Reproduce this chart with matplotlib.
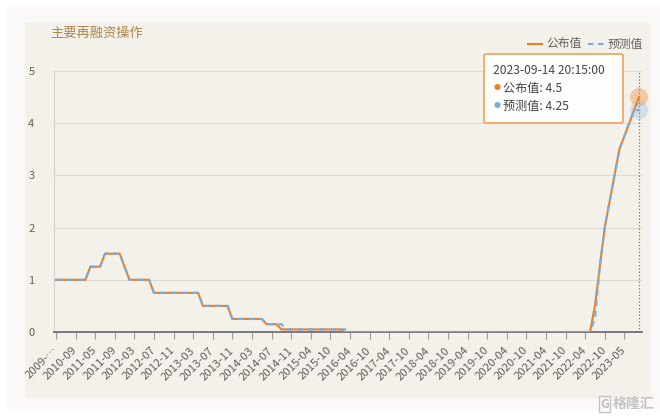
import numpy as np
import matplotlib
matplotlib.use("Agg")
import matplotlib.pyplot as plt
from matplotlib.lines import Line2D
from matplotlib.patches import Rectangle, FancyBboxPatch

plt.rcParams["font.family"] = ["Noto Sans CJK SC", "DejaVu Sans"]

# %%
#! data (one value per ECB meeting, category axis)

title = "主要再融资操作"
name_actual = "公布值"
name_forecast = "预测值"
tooltip_time = "2023-09-14 20:15:00"

tick_labels = [
    "2009-…", "2010-09", "2011-05", "2011-09", "2012-03", "2012-07",
    "2012-11", "2013-03", "2013-07", "2013-11", "2014-03", "2014-07",
    "2014-11", "2015-04", "2015-10", "2016-04", "2016-10", "2017-04",
    "2017-10", "2018-04", "2018-10", "2019-04", "2019-10", "2020-04",
    "2020-10", "2021-04", "2021-10", "2022-04", "2022-10", "2023-05",
]

actual = [
    1.0, 1.0, 1.0, 1.0, 1.0, 1.0, 1.0, 1.25, 1.25, 1.25,
    1.5, 1.5, 1.5, 1.5, 1.25, 1.0, 1.0, 1.0, 1.0, 1.0,
    0.75, 0.75, 0.75, 0.75, 0.75, 0.75, 0.75, 0.75, 0.75, 0.75,
    0.5, 0.5, 0.5, 0.5, 0.5, 0.5, 0.25, 0.25, 0.25, 0.25,
    0.25, 0.25, 0.25, 0.15, 0.15, 0.15, 0.05, 0.05, 0.05, 0.05,
    0.05, 0.05, 0.05, 0.05, 0.05, 0.05, 0.05, 0.05, 0.05, 0.0,
    0.0, 0.0, 0.0, 0.0, 0.0, 0.0, 0.0, 0.0, 0.0, 0.0,
    0.0, 0.0, 0.0, 0.0, 0.0, 0.0, 0.0, 0.0, 0.0, 0.0,
    0.0, 0.0, 0.0, 0.0, 0.0, 0.0, 0.0, 0.0, 0.0, 0.0,
    0.0, 0.0, 0.0, 0.0, 0.0, 0.0, 0.0, 0.0, 0.0, 0.0,
    0.0, 0.0, 0.0, 0.0, 0.0, 0.0, 0.0, 0.0, 0.0, 0.0,
    0.5, 1.25, 2.0, 2.5, 3.0, 3.5, 3.75, 4.0, 4.25, 4.5,
]

forecast = [
    1.0, 1.0, 1.0, 1.0, 1.0, 1.0, 1.0, 1.25, 1.25, 1.25,
    1.5, 1.5, 1.5, 1.5, 1.25, 1.0, 1.0, 1.0, 1.0, 1.0,
    0.75, 0.75, 0.75, 0.75, 0.75, 0.75, 0.75, 0.75, 0.75, 0.75,
    0.5, 0.5, 0.5, 0.5, 0.5, 0.5, 0.25, 0.25, 0.25, 0.25,
    0.25, 0.25, 0.25, 0.15, 0.15, 0.15, 0.15, 0.05, 0.05, 0.05,
    0.05, 0.05, 0.05, 0.05, 0.05, 0.05, 0.05, 0.05, 0.05, 0.05,
    0.0, 0.0, 0.0, 0.0, 0.0, 0.0, 0.0, 0.0, 0.0, 0.0,
    0.0, 0.0, 0.0, 0.0, 0.0, 0.0, 0.0, 0.0, 0.0, 0.0,
    0.0, 0.0, 0.0, 0.0, 0.0, 0.0, 0.0, 0.0, 0.0, 0.0,
    0.0, 0.0, 0.0, 0.0, 0.0, 0.0, 0.0, 0.0, 0.0, 0.0,
    0.0, 0.0, 0.0, 0.0, 0.0, 0.0, 0.0, 0.0, 0.0, 0.0,
    0.25, 1.25, 2.0, 2.5, 3.0, 3.5, 3.75, 4.0, 4.25, 4.25,
]

c_act = "#ef7f22"
c_fc = "#73aee3"
c_txt = "#606060"

# %%
#! figure in pixel units

W, H = 660, 417


def fx(px):
    return px / W


def fy(py):
    return 1 - py / H


fig = plt.figure(figsize=(W / 100, H / 100), dpi=100, facecolor="white")

# background panels
fig.add_artist(Rectangle((fx(7), fy(408)), fx(660) - fx(7), fy(7) - fy(408),
                         transform=fig.transFigure, color="#fbf9f7", zorder=-3))
fig.add_artist(Rectangle((fx(26), fy(397)), fx(650) - fx(26), fy(23) - fy(397),
                         transform=fig.transFigure, color="#f4f0ea", zorder=-2))

ax = fig.add_axes([fx(54), fy(332), (642 - 54) / W, (332 - 71) / H])
ax.set_facecolor("none")

x = np.arange(len(actual))
step = (639 - 56) / (len(actual) - 1)
ax.set_xlim(-2 / step, len(actual) - 1 + 3 / step)
ax.set_ylim(0, 5)

ax.plot(x, actual, color=c_act, lw=1.5, zorder=3)
ax.plot(x, forecast, color=c_fc, lw=1.6, dashes=(2.6, 2.2), zorder=4)

# axis pointer + emphasised points
ax.axvline(x[-1], color="#777777", ls=":", lw=0.9, zorder=2)
ax.scatter([x[-1]], [actual[-1]], s=170, color=c_act, alpha=0.35,
           edgecolors="none", clip_on=False, zorder=5)
ax.scatter([x[-1]], [forecast[-1]], s=170, color=c_fc, alpha=0.25,
           edgecolors="none", clip_on=False, zorder=5)

ax.set_yticks([0, 1, 2, 3, 4, 5])
ax.set_yticklabels(["0", "1", "2", "3", "4", "5"])
ax.grid(axis="y", color="#dedad4", lw=0.8)
ax.set_axisbelow(True)

ax.set_xticks(x[::4])
ax.set_xticklabels(tick_labels, rotation=45, ha="right", va="center",
                   rotation_mode="anchor")
ax.tick_params(axis="x", length=5, color="#9a9a9a", width=0.8, pad=7,
               labelsize=8.2, labelcolor=c_txt)
ax.tick_params(axis="y", length=0, pad=14, labelsize=8, labelcolor=c_txt)

for s in ["top", "right"]:
    ax.spines[s].set_visible(False)
ax.spines["left"].set_color("#d6d2cc")
ax.spines["left"].set_linewidth(0.8)
ax.spines["bottom"].set_color("#6e7079")
ax.spines["bottom"].set_linewidth(1.3)

# %%
#! title, legend, tooltip, watermark

fig.text(fx(50), fy(33), title, fontsize=9.5, color="#ad844c", ha="left", va="center")

fig.add_artist(Line2D([fx(528), fx(542)], [fy(44), fy(44)], color=c_act, lw=1.5,
                      transform=fig.transFigure))
fig.text(fx(546), fy(44), name_actual, fontsize=8.5, color=c_txt, va="center")
fig.add_artist(Line2D([fx(588), fx(604)], [fy(44), fy(44)], color=c_fc, lw=1.5,
                      dashes=(2.6, 2.2), transform=fig.transFigure))
fig.text(fx(608), fy(44), name_forecast, fontsize=8.5, color=c_txt, va="center")

tip = FancyBboxPatch((fx(484), fy(123)), fx(623) - fx(484), fy(54) - fy(123),
                     boxstyle="round,pad=0,rounding_size=0.004",
                     transform=fig.transFigure, facecolor="white", alpha=0.95,
                     edgecolor="#f0a45c", lw=1.3, zorder=6)
fig.add_artist(tip)
fig.text(fx(493), fy(70), tooltip_time, fontsize=8.7, color="#444444",
         va="center", zorder=7)
fig.text(fx(494), fy(88), "●", fontsize=5, color=c_act, va="center", zorder=7)
fig.text(fx(503), fy(88), "{}: {}".format(name_actual, actual[-1]), fontsize=8.7,
         color="#444444", va="center", zorder=7)
fig.text(fx(494), fy(106), "●", fontsize=5, color=c_fc, va="center", zorder=7)
fig.text(fx(503), fy(106), "{}: {}".format(name_forecast, forecast[-1]), fontsize=8.7,
         color="#444444", va="center", zorder=7)

fig.text(fx(600), fy(404), "G", fontsize=9, color="#bdbdbd", va="center",
         fontweight="bold",
         bbox=dict(boxstyle="square,pad=0.1", fc="none", ec="#c4c4c4", lw=1))
fig.text(fx(613), fy(404), "格隆汇", fontsize=10, color="#c4c4c4", va="center",
         fontweight="bold")

fig.savefig("out.png", dpi=100, facecolor="white")
